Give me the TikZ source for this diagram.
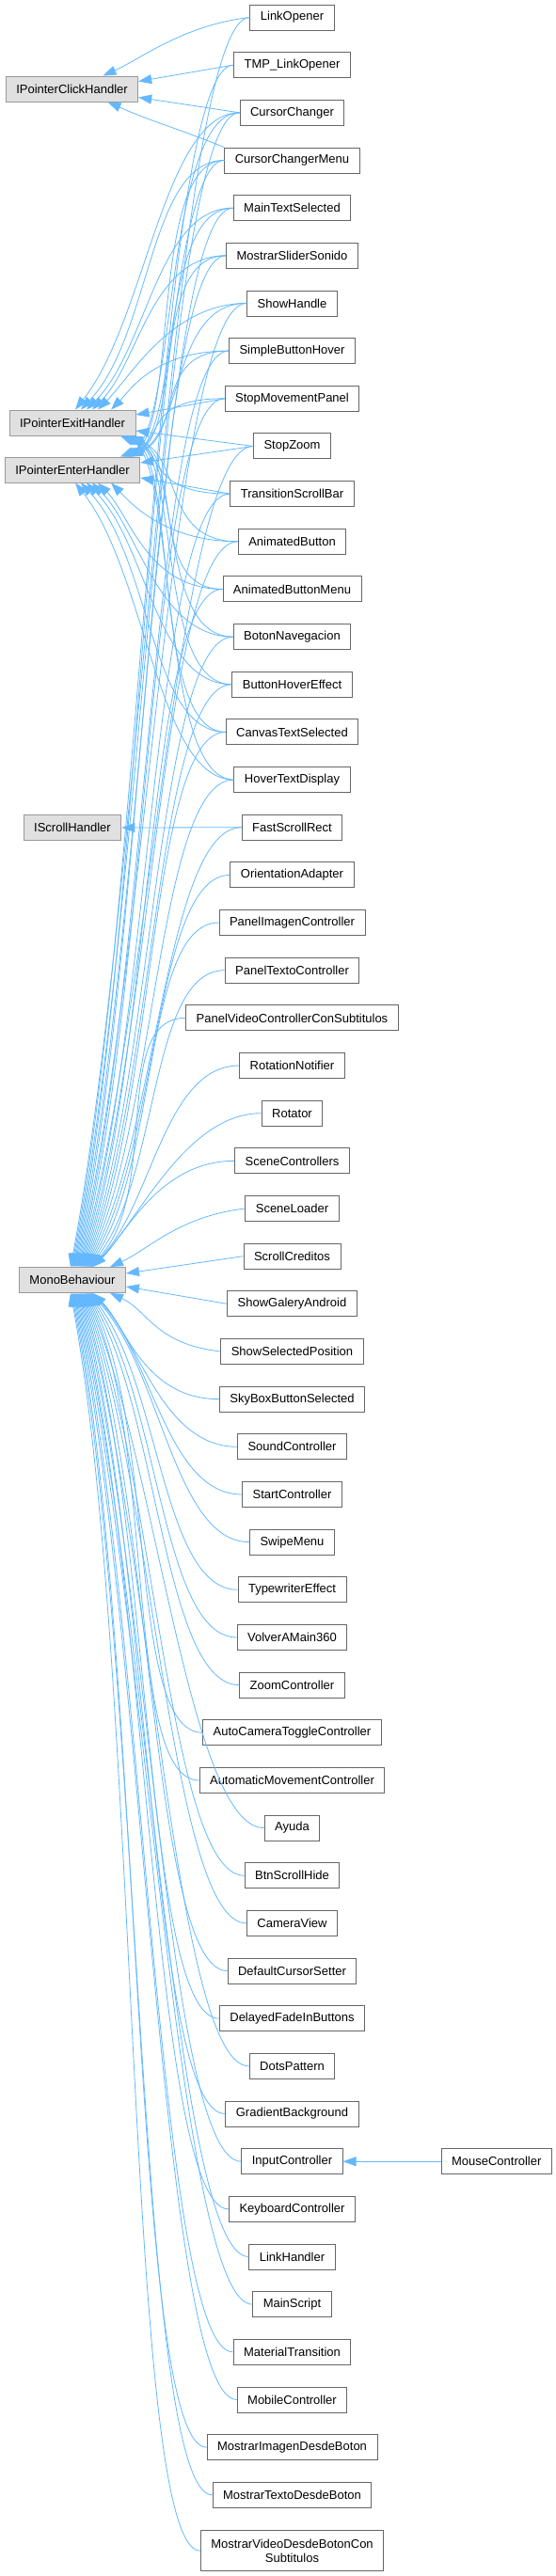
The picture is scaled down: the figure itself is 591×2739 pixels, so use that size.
\documentclass[tikz,border=0pt]{standalone}
\usepackage{fontspec}
\setmainfont{Liberation Sans}
\usetikzlibrary{arrows.meta, positioning}
\usepackage{xcolor}

\definecolor{edgeblue}{HTML}{63B8FF}
\definecolor{extfill}{HTML}{E0E0E0}
\definecolor{extline}{HTML}{999999}
\definecolor{clsline}{HTML}{666666}

\def\classlist{linkopener/LinkOpener, tmplinkopener/TMP\_LinkOpener,
  cursorchanger/CursorChanger, cursorchangermenu/CursorChangerMenu,
  maintextselected/MainTextSelected, mostrarslidersonido/MostrarSliderSonido,
  showhandle/ShowHandle, simplebuttonhover/SimpleButtonHover,
  stopmovementpanel/StopMovementPanel, stopzoom/StopZoom,
  transitionscrollbar/TransitionScrollBar, animatedbutton/AnimatedButton,
  animatedbuttonmenu/AnimatedButtonMenu, botonnavegacion/BotonNavegacion,
  buttonhovereffect/ButtonHoverEffect, canvastextselected/CanvasTextSelected,
  hovertextdisplay/HoverTextDisplay, fastscrollrect/FastScrollRect,
  orientationadapter/OrientationAdapter, panelimagencontroller/PanelImagenController,
  paneltextocontroller/PanelTextoController, panelvideocontroller/PanelVideoControllerConSubtitulos,
  rotationnotifier/RotationNotifier, rotator/Rotator,
  scenecontrollers/SceneControllers, sceneloader/SceneLoader,
  scrollcreditos/ScrollCreditos, showgaleryandroid/ShowGaleryAndroid,
  showselectedposition/ShowSelectedPosition, skyboxbuttonselected/SkyBoxButtonSelected,
  soundcontroller/SoundController, startcontroller/StartController,
  swipemenu/SwipeMenu, typewritereffect/TypewriterEffect,
  volveramain360/VolverAMain360, zoomcontroller/ZoomController,
  autocameratoggle/AutoCameraToggleController, automaticmovement/AutomaticMovementController,
  ayuda/Ayuda, btnscrollhide/BtnScrollHide,
  cameraview/CameraView, defaultcursorsetter/DefaultCursorSetter,
  delayedfadeinbuttons/DelayedFadeInButtons, dotspattern/DotsPattern,
  gradientbackground/GradientBackground, inputcontroller/InputController,
  keyboardcontroller/KeyboardController, linkhandler/LinkHandler,
  mainscript/MainScript, materialtransition/MaterialTransition,
  mobilecontroller/MobileController, mostrarimagen/MostrarImagenDesdeBoton,
  mostrartexto/MostrarTextoDesdeBoton}

\begin{document}
\begin{tikzpicture}[
  x=1pt, y=1pt,
  font=\fontsize{13}{15.6}\selectfont,
  cls/.style={
    draw=clsline,
    fill=white,
    line width=0.9pt,
    minimum height=27pt,
    inner xsep=11pt,
    inner ysep=3pt
  },
  extcls/.style={cls, draw=extline, fill=extfill},
  inh/.style={-{Triangle[length=14pt, width=10pt]}, draw=edgeblue, line width=0.8pt}
]
\useasboundingbox (0,0) rectangle (591,-2739);

\node[extcls] (click) at (76.5,-94.5) {IPointerClickHandler};
\node[extcls] (exit) at (77,-449.5) {IPointerExitHandler};
\node[extcls] (enter) at (77,-499.5) {IPointerEnterHandler};
\node[extcls] (scroll) at (77,-880) {IScrollHandler};
\node[extcls] (mono) at (77,-1361) {MonoBehaviour};

\foreach \nm/\txt [count=\i] in \classlist
  \node[cls] (\nm) at (310.5,{-18.5-(\i-1)*50.66}) {\txt};
\node[cls, align=center, minimum height=43pt, below=23.5pt of mostrartexto] (mostrarvideo)
  {MostrarVideoDesdeBotonCon\\Subtitulos};
\node[cls, right=104pt of inputcontroller] (mousecontroller) {MouseController};

\foreach \c/\txt [count=\i] in \classlist {
  \ifnum\i<26
    \pgfmathsetmacro\rise{0.3*(1348-18.5-(\i-1)*50.66)}
    \pgfmathsetmacro\run{min(75,\rise)}
    \pgfmathsetmacro\tipoff{\i-3}
    \draw[inh] (\c.west) .. controls +(-80,0) and +(\run,\rise) .. ([xshift=\tipoff pt]mono.north);
  \fi
  \ifnum\i>29
    \pgfmathsetmacro\rise{0.3*(18.5+(\i-1)*50.66-1374)}
    \pgfmathsetmacro\run{min(75,\rise)}
    \pgfmathsetmacro\tipoff{52-\i}
    \draw[inh] (\c.west) .. controls +(-80,0) and +(\run,-\rise) .. ([xshift=\tipoff pt]mono.south);
  \fi
}
\draw[inh] (sceneloader.west) .. controls +(-70,-8) and +(40,18) .. ([xshift=40pt]mono.north);
\draw[inh] (scrollcreditos.west) -- ([yshift=7pt]mono.east);
\draw[inh] (showgaleryandroid.west) -- ([yshift=-7pt]mono.east);
\draw[inh] (showselectedposition.west) .. controls +(-70,8) and +(40,-18) .. ([xshift=40pt]mono.south);
\draw[inh] (mostrarvideo.west) .. controls +(-80,0) and +(75,-401) .. ([xshift=-2pt]mono.south);

\draw[inh] (linkopener.west) .. controls +(-70,-8) and +(40,18) .. ([xshift=33pt]click.north);
\draw[inh] (tmplinkopener.west) -- ([yshift=8pt]click.east);
\draw[inh] (cursorchanger.west) -- ([yshift=-9pt]click.east);
\draw[inh] (cursorchangermenu.north west) .. controls +(-50,20) and +(45,-20) .. ([xshift=38pt]click.south);

\foreach \c/\r/\tipoff in {cursorchanger/3/3, cursorchangermenu/4/9, maintextselected/5/15,
    mostrarslidersonido/6/21, showhandle/7/27, simplebuttonhover/8/41} {
  \pgfmathsetmacro\rise{0.3*(436-18.5-(\r-1)*50.66)}
  \pgfmathsetmacro\run{min(75,\rise)}
  \draw[inh] (\c.west) .. controls +(-80,0) and +(\run,\rise) .. ([xshift=\tipoff pt]exit.north);
}
\draw[inh] (stopmovementpanel.west) -- ([yshift=8.5pt]exit.east);
\draw[inh] (stopzoom.west) -- ([yshift=-8.5pt]exit.east);
\foreach \c/\r/\tipoff in {transitionscrollbar/11/63, animatedbutton/12/61, animatedbuttonmenu/13/59,
    botonnavegacion/14/57, buttonhovereffect/15/55, canvastextselected/16/53, hovertextdisplay/17/51} {
  \pgfmathsetmacro\run{min(60,0.5*(18.5+(\r-1)*50.66-463))}
  \draw[inh] (\c.west) .. controls +(-80,0) and +(\run,-25) .. ([xshift=\tipoff pt]exit.south);
}

\foreach \c/\r/\tipoff in {cursorchanger/3/51, cursorchangermenu/4/53, maintextselected/5/55,
    mostrarslidersonido/6/57, showhandle/7/59, simplebuttonhover/8/61, stopmovementpanel/9/63} {
  \pgfmathsetmacro\run{min(60,0.5*(486-18.5-(\r-1)*50.66))}
  \draw[inh] (\c.west) .. controls +(-80,0) and +(\run,25) .. ([xshift=\tipoff pt]enter.north);
}
\draw[inh] (stopzoom.west) -- ([yshift=7.5pt]enter.east);
\draw[inh] (transitionscrollbar.west) -- ([yshift=-8.5pt]enter.east);
\foreach \c/\r/\tipoff in {animatedbutton/12/41, animatedbuttonmenu/13/27, botonnavegacion/14/21,
    buttonhovereffect/15/15, canvastextselected/16/9, hovertextdisplay/17/3} {
  \pgfmathsetmacro\rise{0.3*(18.5+(\r-1)*50.66-513)}
  \pgfmathsetmacro\run{min(75,\rise)}
  \draw[inh] (\c.west) .. controls +(-80,0) and +(\run,-\rise) .. ([xshift=\tipoff pt]enter.south);
}

\draw[inh] (fastscrollrect.west) -- (scroll.east);
\draw[inh] (mousecontroller.west) -- (inputcontroller.east);

\end{tikzpicture}
\end{document}
